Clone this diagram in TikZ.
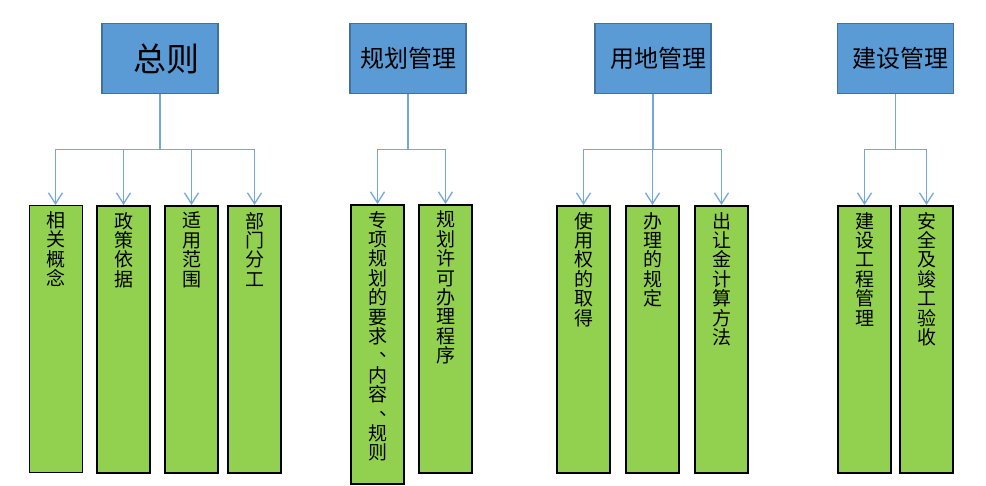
\documentclass[tikz,border=0pt]{standalone}
\usepackage{fontspec}
\newfontfamily\cjk{Noto Sans CJK SC}
\usetikzlibrary{arrows.meta}
\definecolor{headblue}{HTML}{5B9BD5}
\definecolor{headedge}{HTML}{41719C}
\definecolor{leafgreen}{HTML}{92D050}
\definecolor{linkblue}{HTML}{72A8DD}
\newcommand{\shu}[2]{\parbox[t][#1][t]{40pt}{\centering\fontsize{19}{19.4}\selectfont\vspace*{2pt}#2}}
\newcommand{\dun}{\makebox[19pt][l]{\hspace*{11pt}\smash{\raisebox{6pt}{\rlap{、}}}}}
\tikzset{
  head/.style={draw=headedge, line width=1.6pt, fill=headblue, minimum width=116pt, minimum height=70pt, inner xsep=2pt, font=\cjk\fontsize{24}{28}\selectfont},
  leaf/.style={draw=black, line width=2.2pt, fill=leafgreen, anchor=north, inner xsep=6.5pt, inner ysep=4pt, font=\cjk},
  conn/.style={draw=linkblue, line width=1.3pt, -{Straight Barb[length=11pt,width=14pt]}}
}
\begin{document}
\begin{tikzpicture}[x=1pt, y=-1pt]
   \useasboundingbox (0,0) rectangle (986,486);
   \node[head, font=\cjk\fontsize{33}{36}\selectfont] (h1) at (160,58.5) {\hspace*{12pt}总则};
   \node[head] (h2) at (408,58.5) {规划管理};
   \node[head] (h3) at (653,58.5) {\hspace*{10pt}用地管理};
   \node[head] (h4) at (895.5,58.5) {\hspace*{10pt}建设管理};
   \node[leaf, line width=0.9pt] (g1) at (55.5,205) {\shu{259pt}{相\\关\\概\\念}};
   \node[leaf] (g2) at (123.5,205) {\shu{259pt}{政\\策\\依\\据}};
   \node[leaf] (g3) at (191.5,205) {\shu{259pt}{适\\用\\范\\围}};
   \node[leaf] (g4) at (254.5,205) {\shu{259pt}{部\\门\\分\\工}};
   \node[leaf] (g5) at (377.5,204) {\shu{271pt}{专\\项\\规\\划\\的\\要\\求\\\dun\\内\\容\\\dun\\规\\则}};
   \node[leaf] (g6) at (445.5,204) {\shu{260pt}{规\\划\\许\\可\\办\\理\\程\\序}};
   \node[leaf] (g7) at (583.5,205) {\shu{259pt}{使\\用\\权\\的\\取\\得}};
   \node[leaf] (g8) at (652.5,205) {\shu{259pt}{办\\理\\的\\规\\定}};
   \node[leaf] (g9) at (721.5,205) {\shu{259pt}{出\\让\\金\\计\\算\\方\\法}};
   \node[leaf] (g10) at (864.5,205) {\shu{259pt}{建\\设\\工\\程\\管\\理}};
   \node[leaf] (g11) at (926.5,205) {\shu{259pt}{安\\全\\及\\竣\\工\\验\\收}};
   \draw[conn] (h1.south) -- ++(0,55) -| (g1.north);
   \draw[conn] (h1.south) -- ++(0,55) -| (g2.north);
   \draw[conn] (h1.south) -- ++(0,55) -| (g3.north);
   \draw[conn] (h1.south) -- ++(0,55) -| (g4.north);
   \draw[conn] (h2.south) -- ++(0,55) -| (g5.north);
   \draw[conn] (h2.south) -- ++(0,55) -| (g6.north);
   \draw[conn] (h3.south) -- ++(0,55) -| (g7.north);
   \draw[conn] (h3.south) -- ++(0,55) -| (g8.north);
   \draw[conn] (h3.south) -- ++(0,55) -| (g9.north);
   \draw[conn] (h4.south) -- ++(0,55) -| (g10.north);
   \draw[conn] (h4.south) -- ++(0,55) -| (g11.north);
\end{tikzpicture}
\end{document}
